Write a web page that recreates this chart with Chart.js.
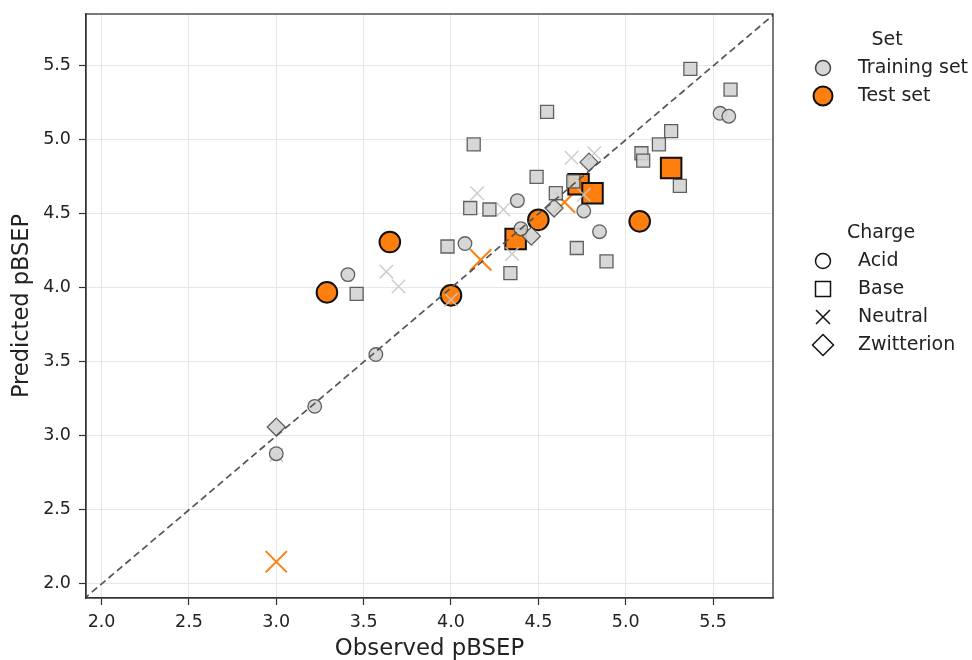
<!DOCTYPE html>
<html>
<head>
<meta charset="utf-8">
<script src="https://cdn.jsdelivr.net/npm/chart.js@4.4.0/dist/chart.umd.min.js"></script>
<style>
  html, body { margin: 0; padding: 0; background: #fff; }
</style>
</head>
<body>
<canvas id="myChart" width="972" height="660"></canvas>
<script>
// pBSEP observed vs predicted
const tickValues = [2.0, 2.5, 3.0, 3.5, 4.0, 4.5, 5.0, 5.5];
const axisMinX = 1.911, axisMaxX = 5.843;
const axisMinY = 1.905, axisMaxY = 5.851;
const identity = [1.8, 6.0];

// training set  [observed, predicted]
const trainAcid = [[3.00, 2.88], [3.22, 3.20], [3.57, 3.55], [3.41, 4.09], [4.08, 4.30],
                   [4.38, 4.59], [4.40, 4.40], [4.76, 4.52], [4.85, 4.38], [5.54, 5.18], [5.59, 5.16]];
const trainBase = [[3.46, 3.96], [3.98, 4.28], [4.11, 4.54], [4.22, 4.53], [4.13, 4.97],
                   [4.34, 4.10], [4.49, 4.75], [4.55, 5.19], [4.60, 4.64], [4.70, 4.72],
                   [4.72, 4.27], [4.89, 4.18], [5.09, 4.91], [5.10, 4.86], [5.19, 4.97],
                   [5.26, 5.06], [5.31, 4.69], [5.37, 5.48], [5.60, 5.34]];
const trainNeutral = [[3.00, 2.87], [3.63, 4.11], [3.70, 4.01], [4.00, 3.92], [4.15, 4.64],
                      [4.30, 4.53], [4.35, 4.23], [4.69, 4.88], [4.82, 4.91], [4.76, 4.63]];
const trainZwit = [[3.00, 3.06], [4.46, 4.35], [4.59, 4.54], [4.79, 4.85]];

// test set
const testAcid = [[3.29, 3.97], [3.65, 4.31], [4.00, 3.95], [4.50, 4.46], [5.08, 4.45]];
const testBase = [[4.37, 4.33], [4.73, 4.70], [4.81, 4.64], [5.26, 4.81]];
const testNeutral = [[3.00, 2.15], [4.17, 4.19], [4.65, 4.58]];

const toXY = arr => arr.map(p => ({x: p[0], y: p[1]}));

const FONT = "'DejaVu Sans', sans-serif";
const TRAIN_FILL = 'rgba(211,211,211,0.9)';
const TRAIN_EDGE = 'rgba(70,70,70,0.85)';
const TEST_FILL = '#ff7f0e';

function trainSet(data, style, r) {
  return {
    type: 'scatter', data: toXY(data), pointStyle: style, pointRadius: r,
    backgroundColor: TRAIN_FILL, borderColor: TRAIN_EDGE, borderWidth: 1.3
  };
}
function testSet(data, style, r) {
  return {
    type: 'scatter', data: toXY(data), pointStyle: style, pointRadius: r,
    backgroundColor: TEST_FILL, borderColor: '#111', borderWidth: 2
  };
}

// legend at the right, drawn by hand because of the two groups
const sideLegend = {
  id: 'sideLegend',
  afterDraw(chart) {
    const ctx = chart.ctx;
    const a = chart.chartArea;
    ctx.save();
    ctx.strokeStyle = '#333';
    ctx.lineWidth = 1.3;
    ctx.strokeRect(a.left, a.top, a.right - a.left, a.bottom - a.top);

    ctx.font = '19px ' + FONT;
    ctx.fillStyle = '#222';
    ctx.textBaseline = 'middle';
    ctx.textAlign = 'center';
    ctx.fillText('Set', 887, 40);
    ctx.fillText('Charge', 881, 233);
    ctx.textAlign = 'left';

    const mx = 823, tx = 858;
    // Set
    ctx.lineWidth = 1.5;
    ctx.beginPath(); ctx.arc(mx, 68, 7.5, 0, Math.PI * 2);
    ctx.fillStyle = TRAIN_FILL; ctx.fill(); ctx.strokeStyle = '#444'; ctx.stroke();
    ctx.lineWidth = 2;
    ctx.beginPath(); ctx.arc(mx, 96, 9.5, 0, Math.PI * 2);
    ctx.fillStyle = TEST_FILL; ctx.fill(); ctx.strokeStyle = '#111'; ctx.stroke();
    ctx.fillStyle = '#222';
    ctx.fillText('Training set', tx, 68);
    ctx.fillText('Test set', tx, 96);

    // Charge
    ctx.strokeStyle = '#111';
    ctx.lineWidth = 1.5;
    ctx.beginPath(); ctx.arc(mx, 261, 7.5, 0, Math.PI * 2); ctx.stroke();
    ctx.strokeRect(mx - 7.5, 289 - 7.5, 15, 15);
    ctx.beginPath();
    ctx.moveTo(mx - 7, 317 - 7); ctx.lineTo(mx + 7, 317 + 7);
    ctx.moveTo(mx + 7, 317 - 7); ctx.lineTo(mx - 7, 317 + 7);
    ctx.stroke();
    ctx.beginPath();
    ctx.moveTo(mx, 345 - 10.5); ctx.lineTo(mx + 10.5, 345);
    ctx.lineTo(mx, 345 + 10.5); ctx.lineTo(mx - 10.5, 345); ctx.closePath();
    ctx.stroke();
    ctx.fillText('Acid', tx, 261);
    ctx.fillText('Base', tx, 289);
    ctx.fillText('Neutral', tx, 317);
    ctx.fillText('Zwitterion', tx, 345);
    ctx.restore();
  }
};

const ctx = document.getElementById('myChart');

const chart = new Chart(ctx, {
  data: {
    datasets: [
      {
        type: 'line', data: identity.map(v => ({x: v, y: v})),
        borderColor: '#555', borderWidth: 1.7, borderDash: [7, 4],
        pointRadius: 0, fill: false
      },
      trainSet(trainAcid, 'circle', 6.8),
      trainSet(trainBase, 'rect', 9.2),
      {
        type: 'scatter', data: toXY(trainNeutral), pointStyle: 'crossRot', pointRadius: 9.5,
        borderColor: 'rgba(200,200,200,0.9)', borderWidth: 1.5
      },
      trainSet(trainZwit, 'rectRot', 9),
      testSet(testAcid, 'circle', 10.3),
      testSet(testBase, 'rect', 14.5),
      {
        type: 'scatter', data: toXY(testNeutral), pointStyle: 'crossRot', pointRadius: 15,
        borderColor: TEST_FILL, borderWidth: 2
      }
    ]
  },
  options: {
    responsive: false,
    animation: false,
    events: [],
    layout: { autoPadding: false, padding: { left: 0, right: 199, top: 14, bottom: 0 } },
    plugins: { legend: { display: false }, tooltip: { enabled: false } },
    scales: {
      x: {
        type: 'linear', min: axisMinX, max: axisMaxX,
        afterBuildTicks: axis => { axis.ticks = tickValues.map(v => ({value: v})); },
        afterFit: axis => { axis.height = 62; axis.paddingLeft = 0; axis.paddingRight = 0; },
        grid: { color: '#e6e6e6', lineWidth: 1, tickLength: 7, tickColor: '#333', tickWidth: 1.2 },
        border: { display: true, color: '#333', width: 1.3 },
        ticks: { color: '#222', padding: 7, maxRotation: 0, font: { family: FONT, size: 17.5 },
                 callback: v => v.toFixed(1) },
        title: { display: true, text: 'Observed pBSEP', color: '#222',
                 font: { family: FONT, size: 22.8, lineHeight: 1.0 }, padding: { top: 0, bottom: 0 } }
      },
      y: {
        type: 'linear', min: axisMinY, max: axisMaxY,
        afterBuildTicks: axis => { axis.ticks = tickValues.map(v => ({value: v})); },
        afterFit: axis => { axis.width = 86; axis.paddingTop = 0; axis.paddingBottom = 0; },
        grid: { color: '#e6e6e6', lineWidth: 1, tickLength: 7, tickColor: '#333', tickWidth: 1.2 },
        border: { display: true, color: '#333', width: 1.3 },
        ticks: { color: '#222', padding: 8, font: { family: FONT, size: 17.5, lineHeight: 0.5 },
                 callback: v => v.toFixed(1) },
        title: { display: true, text: 'Predicted pBSEP', color: '#222',
                 font: { family: FONT, size: 22.5, lineHeight: 1.0 }, padding: { top: 11, bottom: 0 } }
      }
    }
  },
  plugins: [sideLegend]
});
</script>
</body>
</html>
